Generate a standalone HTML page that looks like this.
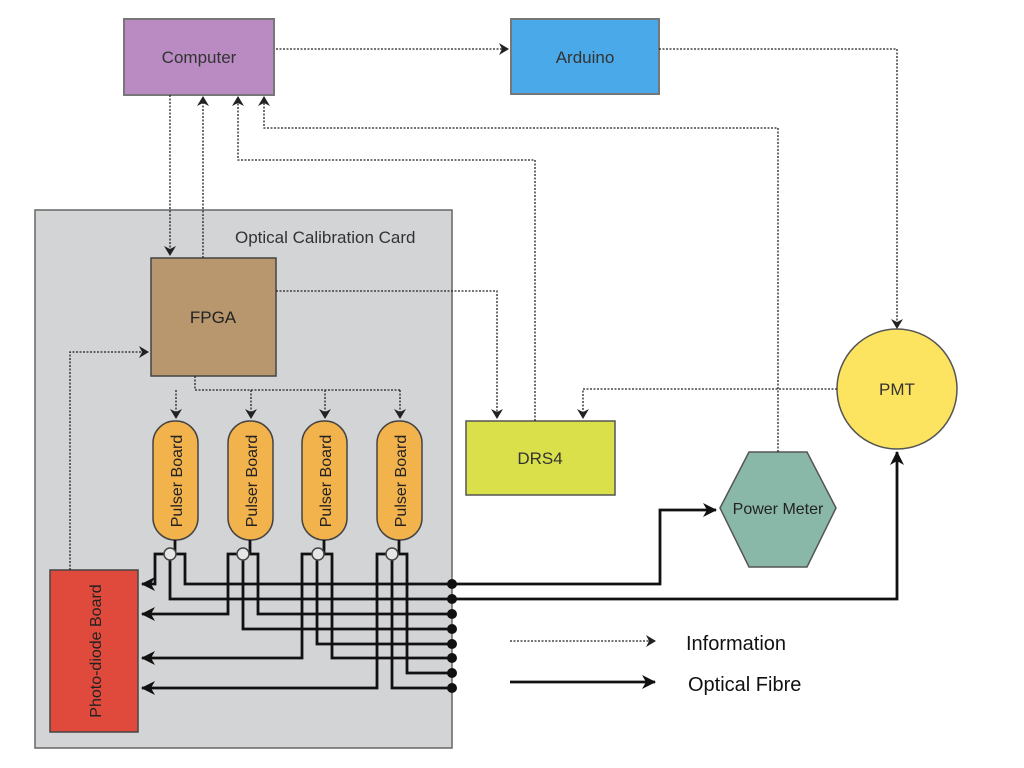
<!DOCTYPE html>
<html><head><meta charset="utf-8"><style>
body{margin:0;background:#fff;}
svg{display:block;}
text{font-family:"Liberation Sans",sans-serif;}
</style></head><body>
<svg width="1024" height="768" viewBox="0 0 1024 768" xmlns="http://www.w3.org/2000/svg">
<defs>
<marker id="a" markerWidth="10" markerHeight="12" refX="9" refY="6" orient="auto" markerUnits="userSpaceOnUse"><path d="M0,0 L10,6 L0,12 L3,6 z" fill="#222"/></marker>
<marker id="b" markerWidth="14" markerHeight="14" refX="13" refY="7" orient="auto" markerUnits="userSpaceOnUse"><path d="M0,0 L14,7 L0,14 L4,7 z" fill="#111"/></marker>
</defs>
<rect x="35" y="210" width="417" height="538" fill="#d3d4d6" stroke="#666" stroke-width="1.5"/>
<text x="235" y="243" font-size="17" fill="#333">Optical Calibration Card</text>
<rect x="124" y="19" width="150" height="76" fill="#b98bc2" stroke="#777" stroke-width="2"/>
<text x="199" y="63" font-size="17" text-anchor="middle" fill="#333">Computer</text>
<rect x="511" y="19" width="148" height="75" fill="#4aa9e8" stroke="#777" stroke-width="2"/>
<text x="585" y="63" font-size="17" text-anchor="middle" fill="#333">Arduino</text>
<rect x="151" y="258" width="125" height="118" fill="#b8976f" stroke="#444" stroke-width="1.5"/>
<text x="213" y="323" font-size="17" text-anchor="middle" fill="#222">FPGA</text>
<rect x="466" y="421" width="149" height="74" fill="#d9e04a" stroke="#555" stroke-width="1.5"/>
<text x="540" y="464" font-size="17" text-anchor="middle" fill="#333">DRS4</text>
<polygon points="720,508 749,452 807,452 836,508 807,567 749,567" fill="#8ab8a8" stroke="#555" stroke-width="1.5"/>
<text x="778" y="514" font-size="16" text-anchor="middle" fill="#222">Power Meter</text>
<circle cx="897" cy="389" r="60" fill="#fde460" stroke="#555" stroke-width="1.5"/>
<text x="897" y="395" font-size="17" text-anchor="middle" fill="#333">PMT</text>
<rect x="50" y="570" width="88" height="162" fill="#e04a3c" stroke="#444" stroke-width="1.5"/>
<text transform="translate(101,651) rotate(-90)" font-size="16" text-anchor="middle" fill="#222">Photo-diode Board</text>
<g fill="#f2b24c" stroke="#444" stroke-width="1.5">
<rect x="153" y="421" width="45" height="119" rx="22"/>
<rect x="228" y="421" width="45" height="119" rx="22"/>
<rect x="302" y="421" width="45" height="119" rx="22"/>
<rect x="377" y="421" width="45" height="119" rx="22"/>
</g>
<g font-size="16" text-anchor="middle" fill="#222">
<text transform="translate(182,481) rotate(-90)">Pulser Board</text>
<text transform="translate(257,481) rotate(-90)">Pulser Board</text>
<text transform="translate(331,481) rotate(-90)">Pulser Board</text>
<text transform="translate(406,481) rotate(-90)">Pulser Board</text>
</g>
<g fill="none" stroke="#222" stroke-width="1.3" stroke-dasharray="2,1.5">
<path d="M276,49 H508" marker-end="url(#a)"/>
<path d="M659,49 H897 V328" marker-end="url(#a)"/>
<path d="M170,95 V255" marker-end="url(#a)"/>
<path d="M203,258 V97" marker-end="url(#a)"/>
<path d="M535,421 V160 H238 V97" marker-end="url(#a)"/>
<path d="M778,452 V128 H264 V97" marker-end="url(#a)"/>
<path d="M276,291 H497 V418" marker-end="url(#a)"/>
<path d="M837,389 H583 V418" marker-end="url(#a)"/>
<path d="M195,376 V390 H400"/>
<path d="M176,390 V418" marker-end="url(#a)"/>
<path d="M251,390 V418" marker-end="url(#a)"/>
<path d="M325,390 V418" marker-end="url(#a)"/>
<path d="M400,390 V418" marker-end="url(#a)"/>
<path d="M70,570 V352 H148" marker-end="url(#a)"/>
<path d="M510,641 H655" marker-end="url(#a)"/>
</g>
<g fill="none" stroke="#111" stroke-width="2.8">
<path d="M452,584 H660 V510 H716" marker-end="url(#b)"/>
<path d="M452,599 H897 V452" marker-end="url(#b)"/>
<path d="M510,682 H655" marker-end="url(#b)"/>
<path d="M175,540 V554 M250,540 V554 M324,540 V554 M399,540 V554"/>
<path d="M164,554 H155 V584 H142" marker-end="url(#b)"/>
<path d="M170,556 V599 H452"/>
<path d="M176,554 H185 V584 H452"/>
<path d="M237,554 H228 V614 H142" marker-end="url(#b)"/>
<path d="M243,556 V629 H452"/>
<path d="M249,554 H258 V614 H452"/>
<path d="M312,554 H302 V658 H142" marker-end="url(#b)"/>
<path d="M317,556 V644 H452"/>
<path d="M324,554 H332 V658 H452"/>
<path d="M386,554 H377 V688 H142" marker-end="url(#b)"/>
<path d="M392,556 V688 H452"/>
<path d="M398,554 H407 V673 H452"/>
</g>
<g fill="#e6e6e6" stroke="#444" stroke-width="1.5">
<circle cx="170" cy="554" r="6"/><circle cx="243" cy="554" r="6"/><circle cx="318" cy="554" r="6"/><circle cx="392" cy="554" r="6"/>
</g>
<g fill="#111">
<circle cx="452" cy="584" r="5"/><circle cx="452" cy="599" r="5"/><circle cx="452" cy="614" r="5"/><circle cx="452" cy="629" r="5"/>
<circle cx="452" cy="644" r="5"/><circle cx="452" cy="658" r="5"/><circle cx="452" cy="673" r="5"/><circle cx="452" cy="688" r="5"/>
</g>
<text x="686" y="650" font-size="20" fill="#111">Information</text>
<text x="688" y="691" font-size="20" fill="#111">Optical Fibre</text>
</svg>
</body></html>
